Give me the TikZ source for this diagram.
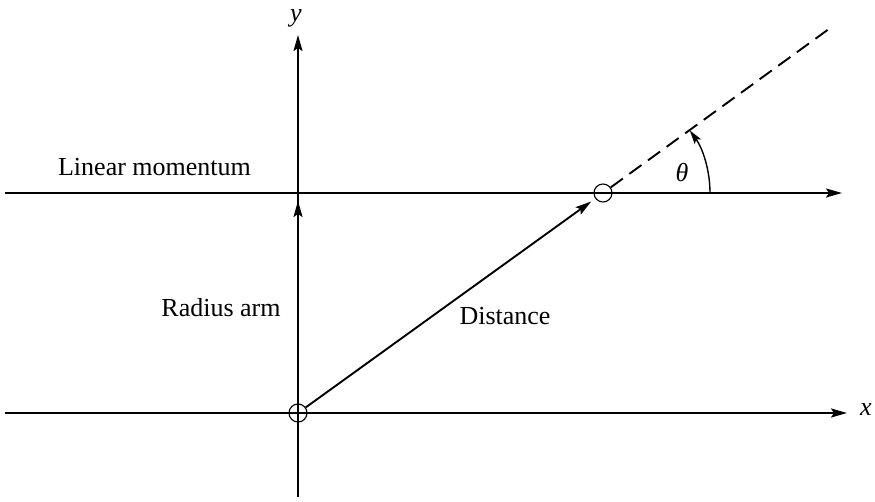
\documentclass[tikz,border=0pt]{standalone}
\usepackage{fontspec}
\setmainfont{Liberation Serif}
\usetikzlibrary{arrows.meta}
\begin{document}
\begin{tikzpicture}[x=1pt,y=1pt,
  axis/.style={line width=1.9pt},
  tip/.style={-{Stealth[length=16pt,width=9pt,inset=3pt]}},
  pt/.style={circle,draw,line width=1.1pt,minimum size=18pt,inner sep=0pt},
  lbl/.style={font=\fontsize{26}{30}\selectfont,inner sep=0pt}]
\useasboundingbox (0,0) rectangle (875,501);
\node[pt] (O) at (298,88) {};
\node[pt] (P) at (603,308) {};
\coordinate (xL) at (5,88);
\coordinate (xR) at (847,88);
\coordinate (yB) at (298,4);
\coordinate (yT) at (298,466);
\coordinate (mL) at (5,308);
\coordinate (mR) at (842,308);
\coordinate (D) at (833,475);
\coordinate (yM0) at (298,270);
\coordinate (yM) at (298,300);
% axes
\draw[axis,tip] (xL) -- (xR);
\draw[axis,tip] (yB) -- (yT);
\draw[axis,tip] (yM0) -- (yM);
% linear momentum
\draw[axis,tip] (mL) -- (mR);
% distance
\draw[axis,tip,shorten >=5pt] (O) -- (P);
% dashed continuation
\draw[line width=1.9pt,dash pattern=on 15pt off 8pt] (P) -- (D);
% angle
\draw[line width=1.4pt,-{Stealth[length=14pt,width=8pt,inset=3pt]}] ([shift={(0:107)}]P.center) arc[start angle=0,end angle=35.8,radius=107];
% labels
\node[lbl] (tLM) at (154.5,334) {Linear momentum};
\node[lbl] (tRA) at (221,193) {Radius arm};
\node[lbl] (tD) at (505,185) {Distance};
\node[lbl] (ty) at (296,483) {\textit{y}};
\node[lbl] (tx) at (866,91) {\textit{x}};
\node[lbl] (tth) at (682,328) {\textit{θ}};
\end{tikzpicture}
\end{document}
